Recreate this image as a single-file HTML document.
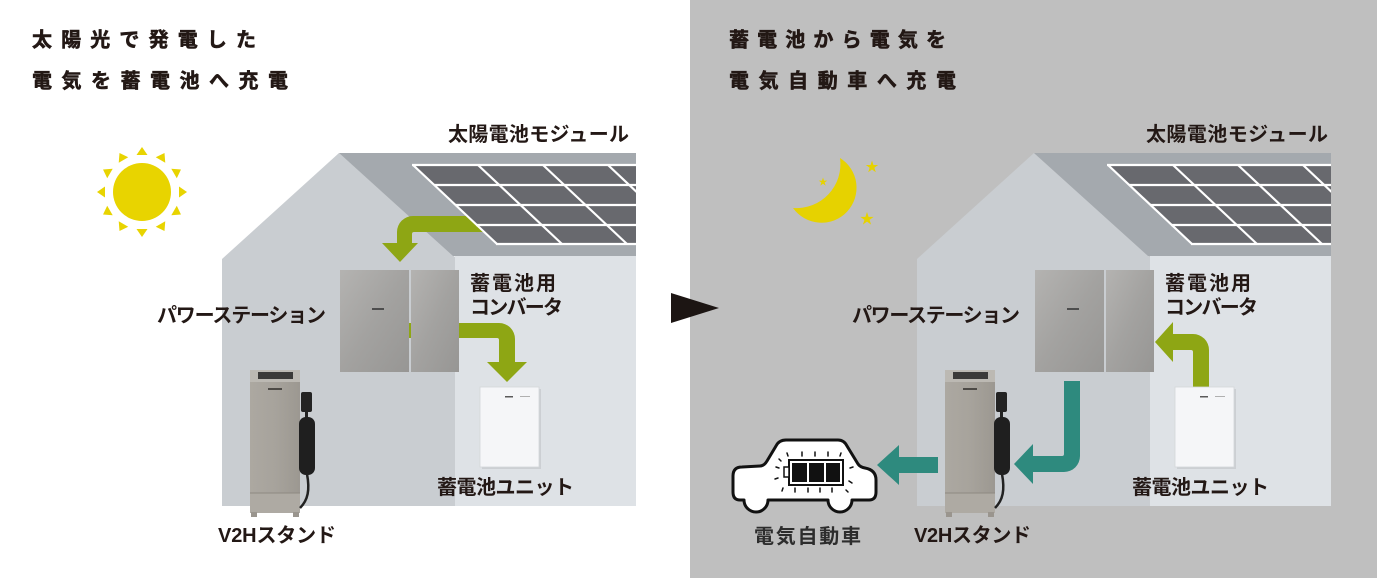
<!DOCTYPE html>
<html><head><meta charset="utf-8">
<style>
html,body{margin:0;padding:0;background:#fff;}
svg{display:block;}
text{font-family:"Liberation Sans","Noto Sans CJK JP",sans-serif;font-weight:bold;fill:#231815;}
text.t{stroke:#231815;stroke-width:0.6;}
</style></head>
<body>
<svg width="1377" height="578" viewBox="0 0 1377 578" xmlns="http://www.w3.org/2000/svg">
<defs>
  <linearGradient id="ps" x1="0" y1="0" x2="1" y2="1">
    <stop offset="0" stop-color="#b4b3b1"/>
    <stop offset="0.5" stop-color="#a3a2a0"/>
    <stop offset="1" stop-color="#979694"/>
  </linearGradient>
  <linearGradient id="v2h" x1="0" y1="0" x2="1" y2="0">
    <stop offset="0" stop-color="#aca8a1"/>
    <stop offset="0.5" stop-color="#a7a39c"/>
    <stop offset="1" stop-color="#9c9891"/>
  </linearGradient>
  <clipPath id="clipRoof"><rect x="300" y="150" width="336" height="110"/></clipPath>
</defs>

<rect x="0" y="0" width="690" height="578" fill="#ffffff"/>
<rect x="690" y="0" width="687" height="578" fill="#bfbfbf"/>

<!-- ============ LEFT ============ -->
<g>
  <polygon points="222,506 222,259 339,153 455,257 455,506" fill="#c9cdd1"/>
  <polygon points="339,153 636,153 636,256 453,256" fill="#a4a9ae"/>
  <rect x="455" y="256" width="181" height="250" fill="#dee2e6"/>
</g>
<path d="M490,216 H413 A16,16 0 0 0 397,232 V243 H382 L400,262 L418,243 H412 V234 Q412,232 414,232 H490 Z" fill="#8ea614"/>
<g clip-path="url(#clipRoof)">
  <polygon points="413,165 720,165 804,244 497,244" fill="#68696e"/>
  <g stroke="#ffffff" stroke-width="2.2">
    <line x1="412" y1="165" x2="720" y2="165"/>
    <line x1="434" y1="185" x2="720" y2="185"/>
    <line x1="455" y1="205" x2="720" y2="205"/>
    <line x1="476" y1="225" x2="720" y2="225"/>
    <line x1="496" y1="244" x2="720" y2="244"/>
    <line x1="413" y1="165" x2="497" y2="244"/>
    <line x1="478" y1="165" x2="562" y2="244"/>
    <line x1="543" y1="165" x2="627" y2="244"/>
    <line x1="608" y1="165" x2="692" y2="244"/>
  </g>
</g>
<path d="M400,323 H499 A16,16 0 0 1 515,339 V362 H527 L507,382 L487,362 H499 V340 Q499,338 497,338 H400 Z" fill="#8ea614"/>
<g>
  <rect x="340" y="270" width="69" height="102" fill="url(#ps)"/>
  <rect x="411" y="270" width="48" height="102" fill="url(#ps)"/>
  <rect x="372" y="308" width="12" height="2" fill="#4d4d4d"/>
  <rect x="482" y="389" width="59" height="80" fill="#b9bcc0" opacity="0.5"/>
  <rect x="480" y="387" width="59" height="80" fill="#f5f6f8" stroke="#d3d6d9" stroke-width="0.8"/>
  <rect x="505" y="396" width="8" height="1.5" fill="#5a5a5a"/>
  <rect x="520" y="396" width="10" height="1" fill="#b0b0b0"/>
  <rect x="250" y="370" width="50" height="143" fill="url(#v2h)"/>
  <rect x="250" y="370" width="50" height="12" fill="#bcb9b3"/>
  <rect x="258" y="372" width="35" height="7" fill="#3b3a39"/>
  <rect x="268" y="388" width="14" height="2" fill="#4d4a46"/>
  <rect x="250" y="493" width="50" height="20" fill="#aeaaa3"/>
  <line x1="250" y1="493" x2="300" y2="493" stroke="#8e8982" stroke-width="1"/>
  <rect x="251" y="512" width="6" height="5" fill="#9a958e"/>
  <rect x="293" y="512" width="6" height="5" fill="#9a958e"/>
  <rect x="301" y="392" width="11" height="20" rx="2" fill="#232323"/>
  <rect x="305" y="411" width="3" height="8" fill="#232323"/>
  <rect x="299" y="417" width="16" height="58" rx="7" fill="#1f1f1f"/>
  <path d="M307,474 C310,490 308,500 300,508" stroke="#222" stroke-width="2.5" fill="none"/>
</g>
<g fill="#e8d400">
  <circle cx="142" cy="192" r="29"/>
  <g transform="translate(142,192)">
    <polygon points="0,-45 -5.5,-37 5.5,-37" transform="rotate(0)"/>
    <polygon points="0,-45 -5.5,-37 5.5,-37" transform="rotate(30)"/>
    <polygon points="0,-45 -5.5,-37 5.5,-37" transform="rotate(60)"/>
    <polygon points="0,-45 -5.5,-37 5.5,-37" transform="rotate(90)"/>
    <polygon points="0,-45 -5.5,-37 5.5,-37" transform="rotate(120)"/>
    <polygon points="0,-45 -5.5,-37 5.5,-37" transform="rotate(150)"/>
    <polygon points="0,-45 -5.5,-37 5.5,-37" transform="rotate(180)"/>
    <polygon points="0,-45 -5.5,-37 5.5,-37" transform="rotate(210)"/>
    <polygon points="0,-45 -5.5,-37 5.5,-37" transform="rotate(240)"/>
    <polygon points="0,-45 -5.5,-37 5.5,-37" transform="rotate(270)"/>
    <polygon points="0,-45 -5.5,-37 5.5,-37" transform="rotate(300)"/>
    <polygon points="0,-45 -5.5,-37 5.5,-37" transform="rotate(330)"/>
  </g>
</g>

<text class="t" x="32" y="46.5" font-size="20" textLength="224" lengthAdjust="spacing">太陽光で発電した</text>
<text class="t" x="32" y="87.5" font-size="20" textLength="256" lengthAdjust="spacing">電気を蓄電池へ充電</text>
<text x="448" y="141" font-size="20" textLength="181" lengthAdjust="spacing">太陽電池モジュール</text>
<text x="157" y="322" font-size="20" textLength="169" lengthAdjust="spacing">パワーステーション</text>
<text x="470" y="290" font-size="20" textLength="86" lengthAdjust="spacing">蓄電池用</text>
<text x="470" y="314" font-size="20" textLength="93" lengthAdjust="spacing">コンバータ</text>
<text x="437" y="494" font-size="20" textLength="137" lengthAdjust="spacing">蓄電池ユニット</text>
<text x="218" y="542" font-size="20" textLength="118" lengthAdjust="spacing">V2Hスタンド</text>

<polygon points="671,293 671,323 719,308" fill="#1c1513"/>

<!-- ============ RIGHT ============ -->
<g transform="translate(695,0)">
  <polygon points="222,506 222,259 339,153 455,257 455,506" fill="#c9cdd1"/>
  <polygon points="339,153 636,153 636,256 453,256" fill="#a4a9ae"/>
  <rect x="455" y="256" width="181" height="250" fill="#dee2e6"/>
  <g clip-path="url(#clipRoof)">
    <polygon points="413,165 720,165 804,244 497,244" fill="#68696e"/>
    <g stroke="#ffffff" stroke-width="2.2">
      <line x1="412" y1="165" x2="720" y2="165"/>
      <line x1="434" y1="185" x2="720" y2="185"/>
      <line x1="455" y1="205" x2="720" y2="205"/>
      <line x1="476" y1="225" x2="720" y2="225"/>
      <line x1="496" y1="244" x2="720" y2="244"/>
      <line x1="413" y1="165" x2="497" y2="244"/>
      <line x1="478" y1="165" x2="562" y2="244"/>
      <line x1="543" y1="165" x2="627" y2="244"/>
      <line x1="608" y1="165" x2="692" y2="244"/>
    </g>
  </g>
</g>
<path d="M1193,392 V352 Q1193,350 1191,350 H1173 V362 L1155,342 L1173,322 V334 H1193 A16,16 0 0 1 1209,350 V392 Z" fill="#8ea614"/>
<g transform="translate(695,0)">
  <rect x="340" y="270" width="69" height="102" fill="url(#ps)"/>
  <rect x="411" y="270" width="48" height="102" fill="url(#ps)"/>
  <rect x="372" y="308" width="12" height="2" fill="#4d4d4d"/>
  <rect x="482" y="389" width="59" height="80" fill="#b9bcc0" opacity="0.5"/>
  <rect x="480" y="387" width="59" height="80" fill="#f5f6f8" stroke="#d3d6d9" stroke-width="0.8"/>
  <rect x="505" y="396" width="8" height="1.5" fill="#5a5a5a"/>
  <rect x="520" y="396" width="10" height="1" fill="#b0b0b0"/>
  <rect x="250" y="370" width="50" height="143" fill="url(#v2h)"/>
  <rect x="250" y="370" width="50" height="12" fill="#bcb9b3"/>
  <rect x="258" y="372" width="35" height="7" fill="#3b3a39"/>
  <rect x="268" y="388" width="14" height="2" fill="#4d4a46"/>
  <rect x="250" y="493" width="50" height="20" fill="#aeaaa3"/>
  <line x1="250" y1="493" x2="300" y2="493" stroke="#8e8982" stroke-width="1"/>
  <rect x="251" y="512" width="6" height="5" fill="#9a958e"/>
  <rect x="293" y="512" width="6" height="5" fill="#9a958e"/>
  <rect x="301" y="392" width="11" height="20" rx="2" fill="#232323"/>
  <rect x="305" y="411" width="3" height="8" fill="#232323"/>
  <rect x="299" y="417" width="16" height="58" rx="7" fill="#1f1f1f"/>
  <path d="M307,474 C310,490 308,500 300,508" stroke="#222" stroke-width="2.5" fill="none"/>
</g>
<path d="M1064,381 H1080 V456 A16,16 0 0 1 1064,472 H1033 V484 L1014,464 L1033,444 V456 H1062 Q1064,456 1064,454 Z" fill="#2e8a7e"/>
<path d="M938,457 V473 H899 V485 L877,465 L899,445 V457 Z" fill="#2e8a7e"/>

<path d="M840,158 A35,35 0 1,1 793,208 A44,44 0 0,0 840,158 Z" fill="#e6d200"/>
<g fill="#e6d200">
  <polygon transform="translate(872,167) scale(6.5)" points="0,-1 0.2245,-0.309 0.951,-0.309 0.363,0.118 0.588,0.809 0,0.382 -0.588,0.809 -0.363,0.118 -0.951,-0.309 -0.2245,-0.309"/>
  <polygon transform="translate(823,182) scale(4.5)" points="0,-1 0.2245,-0.309 0.951,-0.309 0.363,0.118 0.588,0.809 0,0.382 -0.588,0.809 -0.363,0.118 -0.951,-0.309 -0.2245,-0.309"/>
  <polygon transform="translate(867,219) scale(7)" points="0,-1 0.2245,-0.309 0.951,-0.309 0.363,0.118 0.588,0.809 0,0.382 -0.588,0.809 -0.363,0.118 -0.951,-0.309 -0.2245,-0.309"/>
</g>

<path d="M740,500 Q733,500 733,492 V476 Q733,467 742,467 L760,466 Q764,466 767,461 L776,446 Q779,440 786,440 H838 Q844,440 847,446 L858,464 Q860,467 865,468 Q876,470 876,480 V492 Q876,500 869,500 H852 A12,12 0 0 1 828,500 H768 A12,12 0 0 1 744,500 Z" fill="#ffffff" stroke="#111" stroke-width="3" stroke-linejoin="round"/>
<rect x="789" y="460" width="54" height="25" fill="#fff" stroke="#111" stroke-width="2"/>
<rect x="784" y="467" width="5" height="10" fill="#fff" stroke="#111" stroke-width="1.5"/>
<rect x="792" y="463" width="15" height="19" fill="#111"/>
<rect x="809" y="463" width="15" height="19" fill="#111"/>
<rect x="826" y="463" width="14" height="19" fill="#111"/>
<g stroke="#111" stroke-width="1.5" stroke-linecap="round">
  <line x1="787" y1="453" x2="788" y2="456"/>
  <line x1="802" y1="452" x2="802" y2="456"/>
  <line x1="815" y1="452" x2="815" y2="456"/>
  <line x1="828" y1="452" x2="828" y2="456"/>
  <line x1="841" y1="453" x2="840" y2="456"/>
  <line x1="782" y1="491" x2="783" y2="488"/>
  <line x1="795" y1="492" x2="795" y2="488"/>
  <line x1="808" y1="492" x2="808" y2="488"/>
  <line x1="820" y1="492" x2="820" y2="488"/>
  <line x1="832" y1="492" x2="832" y2="488"/>
  <line x1="776" y1="467" x2="779" y2="468"/>
  <line x1="775" y1="479" x2="778" y2="478"/>
  <line x1="850" y1="468" x2="853" y2="467"/>
  <line x1="849" y1="481" x2="852" y2="483"/>
  <line x1="779" y1="459" x2="781" y2="461"/>
  <line x1="846" y1="490" x2="848" y2="492"/>
</g>

<text class="t" x="729" y="46.5" font-size="20" textLength="217" lengthAdjust="spacing">蓄電池から電気を</text>
<text class="t" x="729" y="87.5" font-size="20" textLength="227" lengthAdjust="spacing">電気自動車へ充電</text>
<text x="1146" y="141" font-size="20" textLength="182" lengthAdjust="spacing">太陽電池モジュール</text>
<text x="852" y="322" font-size="20" textLength="168" lengthAdjust="spacing">パワーステーション</text>
<text x="1165" y="290" font-size="20" textLength="86" lengthAdjust="spacing">蓄電池用</text>
<text x="1165" y="314" font-size="20" textLength="93" lengthAdjust="spacing">コンバータ</text>
<text x="1132" y="494" font-size="20" textLength="137" lengthAdjust="spacing">蓄電池ユニット</text>
<text x="914" y="542" font-size="20" textLength="117" lengthAdjust="spacing">V2Hスタンド</text>
<text x="754" y="543" font-size="20" textLength="107" lengthAdjust="spacing" style="fill:#2d2d2d">電気自動車</text>
</svg>
</body></html>
